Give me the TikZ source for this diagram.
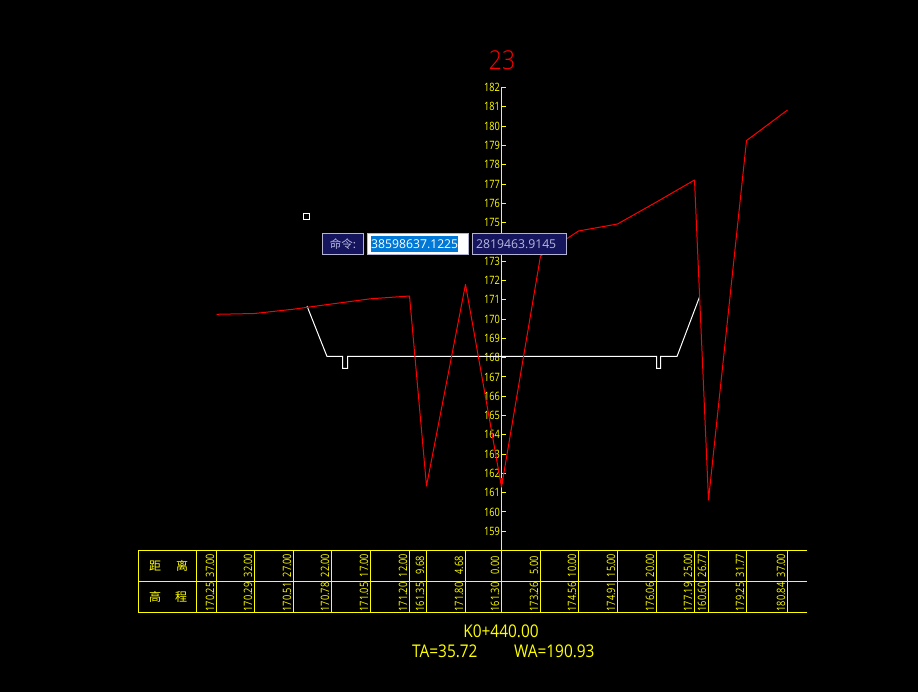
\documentclass[tikz,border=0pt]{standalone}
\usepackage{fontspec}
\setmainfont{Liberation Sans}
\newfontfamily\cadfont[FakeStretch=0.8]{Open Sans}
\newfontfamily\cadwide[FakeStretch=0.88]{Open Sans}
\newfontfamily\cadthin[FakeStretch=0.88,UprightFont=* Light]{Open Sans}
\newfontfamily\uifont{Open Sans}
\newfontfamily\cjkfont{Noto Sans CJK SC}
\definecolor{cadyellow}{HTML}{FFFF00}
\definecolor{navybox}{HTML}{15155E}
\definecolor{boxedge}{HTML}{B4B4D2}
\definecolor{uitext}{HTML}{B8B8E0}
\definecolor{selblue}{HTML}{0078D7}
\tikzset{
  tableline/.style={cadyellow,line width=1pt},
  axisline/.style={cadyellow,line width=1pt},
  groundline/.style={red,line width=1pt,line join=round},
  designline/.style={white,line width=1pt,line join=miter},
  axislabel/.style={cadyellow,anchor=east,inner sep=0pt,font=\cadfont\fontsize{11.5}{12}\selectfont},
  celltext/.style={cadyellow,rotate=90,inner sep=0pt,font=\cadfont\fontsize{11.5}{12}\selectfont},
  headtext/.style={cadyellow,inner sep=0pt,font=\cjkfont\fontsize{12}{13}\selectfont},
  footertext/.style={cadyellow,inner sep=0pt,font=\cadwide\fontsize{17.5}{18}\selectfont},
  uibox/.style={fill=navybox,draw=boxedge,line width=1pt},
  uilabel/.style={inner sep=0pt,font=\uifont\fontsize{12.2}{14}\selectfont},
}
\begin{document}
\begin{tikzpicture}[x=1pt,y=-1pt]
\fill[black] (0,0) rectangle (918,692);
\useasboundingbox (0,0) rectangle (918,692);
% table
\draw[tableline] (807,550.5) -- (138.5,550.5) -- (138.5,612.5) -- (807,612.5);
\draw[tableline] (138.5,581.5) -- (807,581.5);
\foreach \x/\d/\h in {
  216.5/37.00/170.25,254.5/32.00/170.29,293.5/27.00/170.51,331.5/22.00/170.78,
  370.5/17.00/171.05,409.5/12.00/171.20,426.5/9.68/161.35,465.5/4.68/171.80,
  501.5/0.00/161.30,540.5/5.00/173.26,578.5/10.00/174.56,617.5/15.00/174.91,
  656.5/20.00/176.06,694.5/25.00/177.19,708.5/26.77/160.60,746.5/31.77/179.25,
  787.5/37.00/180.84}{
  \draw[tableline] (\x,550.5) -- (\x,612.5);
  \node[celltext] at (\x-6.5,565.5) {\d};
  \node[celltext] at (\x-6.5,597) {\h};
}
\draw[tableline] (196.5,550.5) -- (196.5,612.5);
\node[headtext] at (155,565.5) {距};
\node[headtext] at (182,565.5) {离};
\node[headtext] at (155,597) {高};
\node[headtext] at (181,597) {程};
% axis
\draw[axisline] (501.5,87.5) -- (501.5,550.5);
\foreach \n in {159,...,173,175,176,...,182}{
  \pgfmathsetmacro{\yy}{87.6+(182-\n)*19.29}
  \draw[axisline] (501.5,\yy) -- (506,\yy);
  \node[axislabel] at (500,\yy) {\n};
}
% title
\node[red,inner sep=0pt,font=\cadthin\fontsize{26}{28}\selectfont] (title) at (502,60.5) {23};
% design line
\draw[designline] (307,306) -- (327,356.5) -- (342.5,356.5) -- (342.5,368.5) -- (347.5,368.5) -- (347.5,356.5)
  -- (656.5,356.5) -- (656.5,368.5) -- (660.5,368.5) -- (660.5,356.5) -- (677,356.5) -- (699.5,297);
% ground line
\draw[groundline] (216.5,314.3) -- (254.5,313.5) -- (293.5,309.2) -- (331.5,304) -- (370.5,298.8)
  -- (409.5,296) -- (426.5,486) -- (465.5,284.4) -- (501.5,487) -- (540.5,256) -- (578.5,231)
  -- (617.5,224) -- (656.5,202) -- (694.5,180) -- (708.5,500) -- (746.5,140.6) -- (787.5,110);
\draw[red,line width=2pt] (501.5,478) -- (501.5,484);
% pick box and prompt
\draw[white,line width=1pt] (303.5,213.5) rectangle (309.5,219.5);
\draw[uibox] (322.5,233.5) rectangle (363.5,254.5);
\node[uilabel,text=uitext,font=\cjkfont\fontsize{11.5}{14}\selectfont] at (343,244) {命令:};
\draw[fill=white,draw=boxedge,line width=1pt] (367.5,233.5) rectangle (468.5,254.5);
\fill[selblue] (371,236) rectangle (458,252);
\node[uilabel,text=white,anchor=west] at (371,244) {38598637.1225};
\draw[uibox] (472.5,233.5) rectangle (566.5,254.5);
\node[uilabel,text=uitext,anchor=west] at (476,244) {2819463.9145};
% footer
\node[footertext] at (501,631.5) {K0+440.00};
\node[footertext,anchor=west] at (412,651) {TA=35.72};
\node[footertext,anchor=west] at (514,651) {WA=190.93};
\end{tikzpicture}
\end{document}
